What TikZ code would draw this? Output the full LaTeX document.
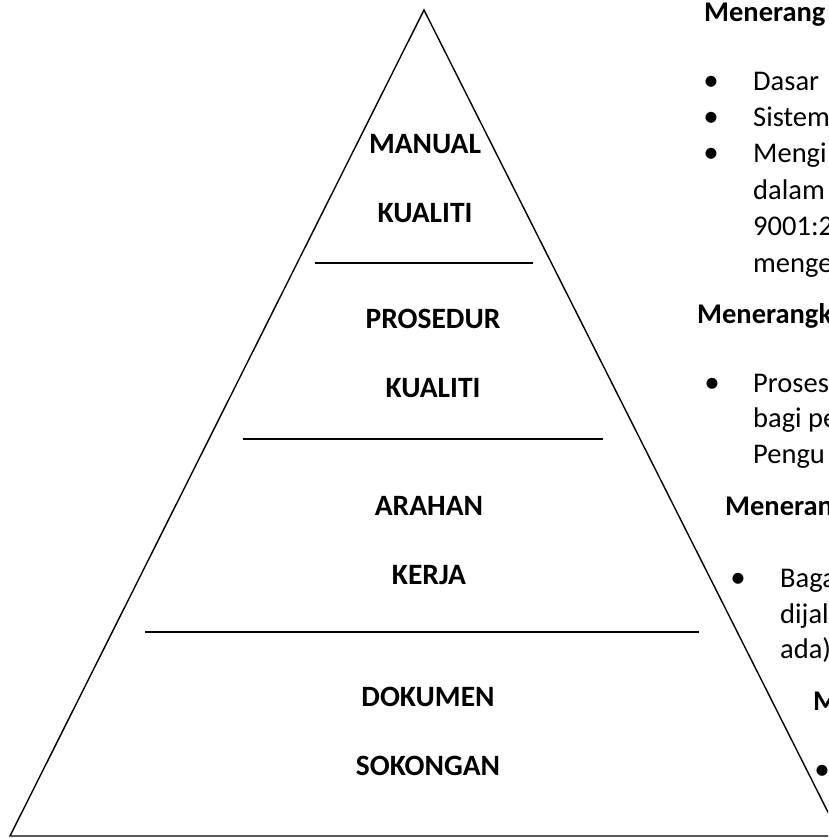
\documentclass[tikz,border=0pt]{standalone}
\usepackage{fontspec}
\setmainfont{Carlito}
\begin{document}
\begin{tikzpicture}[x=1pt,y=-1pt,
  edge/.style={line width=1.4pt, line join=miter},
  sep/.style={line width=1.8pt},
  lbl/.style={font=\fontsize{29.5}{34}\selectfont\bfseries, anchor=base, inner sep=0pt},
  hd/.style={font=\fontsize{28.5}{36}\selectfont\bfseries, anchor=base west, inner sep=0pt},
  txt/.style={font=\fontsize{28.5}{36}\selectfont, anchor=base west, inner sep=0pt},
  bul/.style={font=\fontsize{31}{36}\selectfont, anchor=base, inner sep=0pt}]
\useasboundingbox (0,0) rectangle (828,838);
\clip (0,0) rectangle (828,838);
% pyramid
\coordinate (apex) at (424,10);
\coordinate (bl) at (10,836);
\coordinate (br) at (840,836);
\draw[edge] (apex) -- (bl) -- (br) -- cycle;
% separators
\coordinate (s1a) at (315,263); \coordinate (s1b) at (533,263);
\coordinate (s2a) at (243,439); \coordinate (s2b) at (603,439);
\coordinate (s3a) at (145,632); \coordinate (s3b) at (699,632);
\draw[sep] (s1a) -- (s1b);
\draw[sep] (s2a) -- (s2b);
\draw[sep] (s3a) -- (s3b);
% level labels
\node[lbl] (manual) at (425,153) {MANUAL};
\node[lbl] (kualiti1) at (425,222) {KUALITI};
\node[lbl] (prosedur) at (433,328) {PROSEDUR};
\node[lbl] (kualiti2) at (433,397) {KUALITI};
\node[lbl] (arahan) at (429,515) {ARAHAN};
\node[lbl] (kerja) at (429,584) {KERJA};
\node[lbl] (dokumen) at (428,706) {DOKUMEN};
\node[lbl] (sokongan) at (428,775) {SOKONGAN};
% right-hand notes (cut by the page edge, as in the reference)
\node[hd] (h1) at (704,21) {Menerang};
\node[bul] (b11) at (711,90) {•};
\node[txt] (t11) at (753,90) {Dasar};
\node[bul] (b12) at (711,126) {•};
\node[txt] (t12) at (753,126) {Sistem};
\node[bul] (b13) at (711,162) {•};
\node[txt] (t13) at (753,162) {Mengi};
\node[txt] (t14) at (753,199) {dalam};
\node[txt] (t15) at (753,235) {9001:2};
\node[txt] (t16) at (753,272) {menge};
\node[hd] (h2) at (697,323) {Menerangk};
\node[bul] (b21) at (712,392) {•};
\node[txt] (t21) at (753,392) {Proses};
\node[txt] (t22) at (753,427) {bagi pe};
\node[txt] (t23) at (753,463) {Pengu};
\node[hd] (h3) at (725,515) {Meneran};
\node[bul] (b31) at (738,587) {•};
\node[txt] (t31) at (780,587) {Baga};
\node[txt] (t32) at (780,623) {dijal};
\node[txt] (t33) at (780,658) {ada)};
\node[hd] (h4) at (813,710) {M};
\node[bul] (b41) at (822,779) {•};
\end{tikzpicture}
\end{document}
